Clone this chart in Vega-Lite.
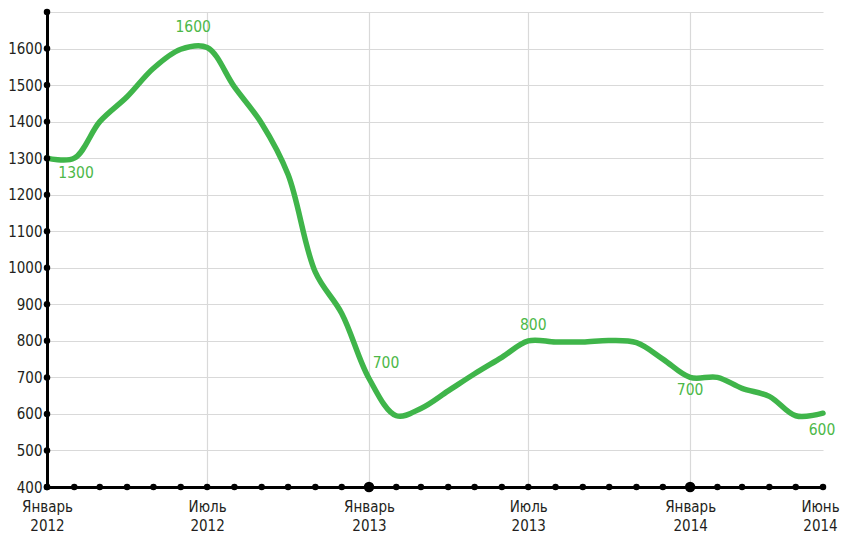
{
  "$schema": "https://vega.github.io/schema/vega-lite/v6.json",
  "width": 776,
  "height": 475,
  "autosize": "none",
  "padding": {"left": 47, "top": 12, "right": 19, "bottom": 51},
  "background": "white",
  "config": {
    "view": {"stroke": null},
    "font": "DejaVu Sans Condensed, DejaVu Sans, sans-serif"
  },
  "datasets": {
    "main": [
      {"date": "2012-01-01", "value": 1300, "label": "1300"},
      {"date": "2012-02-01", "value": 1300},
      {"date": "2012-03-01", "value": 1400},
      {"date": "2012-04-01", "value": 1468},
      {"date": "2012-05-01", "value": 1546},
      {"date": "2012-06-01", "value": 1598},
      {"date": "2012-07-01", "value": 1603, "label": "1600"},
      {"date": "2012-08-01", "value": 1495},
      {"date": "2012-09-01", "value": 1395},
      {"date": "2012-10-01", "value": 1255},
      {"date": "2012-11-01", "value": 988},
      {"date": "2012-12-01", "value": 875},
      {"date": "2013-01-01", "value": 697, "label": "700"},
      {"date": "2013-02-01", "value": 595},
      {"date": "2013-03-01", "value": 615},
      {"date": "2013-04-01", "value": 663},
      {"date": "2013-05-01", "value": 710},
      {"date": "2013-06-01", "value": 755},
      {"date": "2013-07-01", "value": 800, "label": "800"},
      {"date": "2013-08-01", "value": 797},
      {"date": "2013-09-01", "value": 797},
      {"date": "2013-10-01", "value": 801},
      {"date": "2013-11-01", "value": 795},
      {"date": "2013-12-01", "value": 750},
      {"date": "2014-01-01", "value": 700, "label": "700"},
      {"date": "2014-02-01", "value": 700},
      {"date": "2014-03-01", "value": 670},
      {"date": "2014-04-01", "value": 648},
      {"date": "2014-05-01", "value": 595},
      {"date": "2014-06-01", "value": 602, "label": "600"}
    ],
    "xdots": [
      {"date": "2012-01-01", "value": 400}, {"date": "2012-02-01", "value": 400}, {"date": "2012-03-01", "value": 400},
      {"date": "2012-04-01", "value": 400}, {"date": "2012-05-01", "value": 400}, {"date": "2012-06-01", "value": 400},
      {"date": "2012-07-01", "value": 400}, {"date": "2012-08-01", "value": 400}, {"date": "2012-09-01", "value": 400},
      {"date": "2012-10-01", "value": 400}, {"date": "2012-11-01", "value": 400}, {"date": "2012-12-01", "value": 400},
      {"date": "2013-01-01", "value": 400, "major": true}, {"date": "2013-02-01", "value": 400}, {"date": "2013-03-01", "value": 400},
      {"date": "2013-04-01", "value": 400}, {"date": "2013-05-01", "value": 400}, {"date": "2013-06-01", "value": 400},
      {"date": "2013-07-01", "value": 400}, {"date": "2013-08-01", "value": 400}, {"date": "2013-09-01", "value": 400},
      {"date": "2013-10-01", "value": 400}, {"date": "2013-11-01", "value": 400}, {"date": "2013-12-01", "value": 400},
      {"date": "2014-01-01", "value": 400, "major": true}, {"date": "2014-02-01", "value": 400}, {"date": "2014-03-01", "value": 400},
      {"date": "2014-04-01", "value": 400}, {"date": "2014-05-01", "value": 400}, {"date": "2014-06-01", "value": 400}
    ],
    "ydots": [
      {"date": "2012-01-01", "value": 400}, {"date": "2012-01-01", "value": 500}, {"date": "2012-01-01", "value": 600},
      {"date": "2012-01-01", "value": 700}, {"date": "2012-01-01", "value": 800}, {"date": "2012-01-01", "value": 900},
      {"date": "2012-01-01", "value": 1000}, {"date": "2012-01-01", "value": 1100}, {"date": "2012-01-01", "value": 1200},
      {"date": "2012-01-01", "value": 1300}, {"date": "2012-01-01", "value": 1400}, {"date": "2012-01-01", "value": 1500},
      {"date": "2012-01-01", "value": 1600}, {"date": "2012-01-01", "value": 1700}
    ]
  },
  "encoding": {
    "x": {
      "field": "date", "type": "temporal",
      "scale": {"type": "utc", "domain": [{"year": 2012, "month": 1, "date": 1, "utc": true}, {"year": 2014, "month": 6, "date": 1, "utc": true}]},
      "axis": {
        "title": null,
        "values": [
          {"year": 2012, "month": 1, "date": 1, "utc": true},
          {"year": 2012, "month": 7, "date": 1, "utc": true},
          {"year": 2013, "month": 1, "date": 1, "utc": true},
          {"year": 2013, "month": 7, "date": 1, "utc": true},
          {"year": 2014, "month": 1, "date": 1, "utc": true},
          {"year": 2014, "month": 6, "date": 1, "utc": true}
        ],
        "labelExpr": "[utcmonth(datum.value) == 0 ? 'Январь' : (utcmonth(datum.value) == 6 ? 'Июль' : 'Июнь'), '' + utcyear(datum.value)]",
        "labelFontSize": 15,
        "labelColor": "#231f20",
        "labelLineHeight": 19,
        "labelPadding": 12,
        "labelBaseline": "top",
        "labelFlush": false,
        "labelOverlap": false,
        "labelOffset": {"condition": {"test": "utcmonth(datum.value) == 5", "value": -3}, "value": 0},
        "ticks": false,
        "domainColor": "#000000",
        "domainWidth": 3,
        "grid": true,
        "gridColor": "#d9d9d9",
        "gridWidth": 1.2,
        "gridOpacity": {"condition": {"test": "utcmonth(datum.value) == 5", "value": 0}, "value": 1}
      }
    },
    "y": {
      "field": "value", "type": "quantitative",
      "scale": {"domain": [400, 1700], "nice": false, "zero": false},
      "axis": {
        "title": null,
        "values": [400, 500, 600, 700, 800, 900, 1000, 1100, 1200, 1300, 1400, 1500, 1600, 1700],
        "labelExpr": "datum.value >= 1700 ? '' : datum.label",
        "format": "d",
        "labelFontSize": 15,
        "labelColor": "#231f20",
        "labelPadding": 5,
        "labelOverlap": false,
        "labelFlush": false,
        "ticks": false,
        "domainColor": "#000000",
        "domainWidth": 3,
        "grid": true,
        "gridColor": "#d9d9d9",
        "gridWidth": 1.2
      }
    }
  },
  "layer": [
    {
      "data": {"name": "main"},
      "mark": {"type": "line", "color": "#3fb54a", "strokeWidth": 5.5, "interpolate": "catmull-rom", "strokeCap": "round"}
    },
    {
      "data": {"name": "xdots"},
      "mark": {"type": "point", "filled": true, "color": "#000000", "size": 42, "opacity": 1}
    },
    {
      "data": {"name": "xdots"},
      "transform": [{"filter": "datum.major === true"}],
      "mark": {"type": "point", "filled": true, "color": "#000000", "size": 110, "opacity": 1}
    },
    {
      "data": {"name": "ydots"},
      "mark": {"type": "point", "filled": true, "color": "#000000", "size": 42, "opacity": 1}
    },
    {
      "data": {"name": "main"},
      "transform": [{"filter": "utcyear(datum.date) == 2012 && utcmonth(datum.date) == 0"}],
      "mark": {"type": "text", "color": "#4cb848", "fontSize": 15.5, "dx": 29, "dy": 15, "align": "center", "baseline": "middle"},
      "encoding": {"text": {"field": "label"}}
    },
    {
      "data": {"name": "main"},
      "transform": [{"filter": "utcyear(datum.date) == 2012 && utcmonth(datum.date) == 6"}],
      "mark": {"type": "text", "color": "#4cb848", "fontSize": 15.5, "dx": -14, "dy": -20, "align": "center", "baseline": "middle"},
      "encoding": {"text": {"field": "label"}}
    },
    {
      "data": {"name": "main"},
      "transform": [{"filter": "utcyear(datum.date) == 2013 && utcmonth(datum.date) == 0"}],
      "mark": {"type": "text", "color": "#4cb848", "fontSize": 15.5, "dx": 17, "dy": -15, "align": "center", "baseline": "middle"},
      "encoding": {"text": {"field": "label"}}
    },
    {
      "data": {"name": "main"},
      "transform": [{"filter": "utcyear(datum.date) == 2013 && utcmonth(datum.date) == 6"}],
      "mark": {"type": "text", "color": "#4cb848", "fontSize": 15.5, "dx": 5, "dy": -16, "align": "center", "baseline": "middle"},
      "encoding": {"text": {"field": "label"}}
    },
    {
      "data": {"name": "main"},
      "transform": [{"filter": "utcyear(datum.date) == 2014 && utcmonth(datum.date) == 0"}],
      "mark": {"type": "text", "color": "#4cb848", "fontSize": 15.5, "dx": 0, "dy": 13, "align": "center", "baseline": "middle"},
      "encoding": {"text": {"field": "label"}}
    },
    {
      "data": {"name": "main"},
      "transform": [{"filter": "utcyear(datum.date) == 2014 && utcmonth(datum.date) == 5"}],
      "mark": {"type": "text", "color": "#4cb848", "fontSize": 15.5, "dx": -1, "dy": 17, "align": "center", "baseline": "middle"},
      "encoding": {"text": {"field": "label"}}
    }
  ]
}
